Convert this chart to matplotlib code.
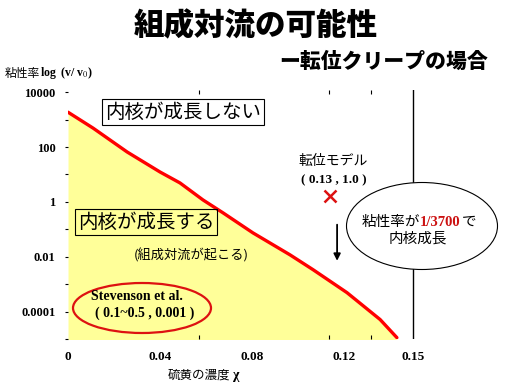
import numpy as np
import matplotlib
matplotlib.use('Agg')
import matplotlib.pyplot as plt
from matplotlib.patches import Ellipse

plt.rcParams['font.family'] = ['Noto Sans CJK JP', 'DejaVu Sans']
plt.rcParams['mathtext.fontset'] = 'stix'

# curve (sulfur concentration, log10 viscosity)
conc = [0.0, 0.0109, 0.0257, 0.040, 0.0487, 0.0587, 0.0674, 0.0804,
        0.0965, 0.1065, 0.1213, 0.1357, 0.143]
log_visc = [3.27, 2.69, 1.82, 1.09, 0.69, 0.07, -0.40, -1.13,
            -1.93, -2.47, -3.31, -4.29, -4.95]
visc = [10 ** v for v in log_visc]

# dislocation model point
model_x = [0.114]
model_y = [1.66]

x_ticks = [0, 0.04, 0.08, 0.12, 0.15]
x_tick_labels = ['0', '0.04', '0.08', '0.12', '0.15']
x_minor = [0.0, 0.057, 0.1135, 0.1317]
y_decades = [1e4, 1e3, 1e2, 1e1, 1, 1e-1, 1e-2, 1e-3, 1e-4, 1e-5]
y_tick_labels = {1e4: '10000', 1e2: '100', 1: '1', 1e-2: '0.01', 1e-4: '0.0001'}
line_x = 0.15

W, H = 512, 384
fig = plt.figure(figsize=(W / 100, H / 100), dpi=100)
ax = fig.add_axes([68 / W, 45 / H, 368 / W, 249 / H])

ax.fill_between(conc, visc, 1e-6, color='#ffff99', lw=0)
ax.plot(conc, visc, color='#ff0000', lw=2.4, solid_capstyle='round')
ax.set_yscale('log')
ax.set_xlim(0, 0.16)
ax.set_ylim(1.05e-5, 1.2e4)

for s in ax.spines.values():
    s.set_visible(False)

serif_bold = dict(family='Liberation Serif', weight='bold')

ax.set_yticks(y_decades)
ax.set_yticklabels([y_tick_labels.get(v, '') for v in y_decades], fontdict=serif_bold, fontsize=9)
ax.yaxis.set_minor_locator(matplotlib.ticker.NullLocator())
ax.tick_params(axis='y', length=2, width=0.8, pad=7)

ax.set_xticks(x_ticks)
ax.set_xticklabels(x_tick_labels, fontdict=serif_bold, fontsize=9.5)
ax.set_xticks(x_minor, minor=True)
ax.tick_params(axis='x', which='major', length=0, pad=9)
ax.tick_params(axis='x', which='minor', length=3, width=0.8, direction='in', top=True)

# vertical line at 0.15
ax.axvline(line_x, color='black', lw=1, zorder=1)

# model point and arrow
ax.plot(model_x, model_y, marker='x', color='#dd1111', ms=8, mew=1.8, ls='none')
ax.annotate('', xy=(0.117, 10 ** -2.25), xytext=(0.117, 10 ** -0.73),
            arrowprops=dict(arrowstyle='-|>', color='black', lw=1.3, mutation_scale=10))

# ellipses in pixel space
def px(x, y):
    return x / 100, (H - y) / 100

e1 = Ellipse(px(422, 226), 1.51, 0.87, transform=fig.dpi_scale_trans,
             facecolor='white', edgecolor='black', lw=0.8, zorder=5)
fig.patches.append(e1)
e2 = Ellipse(px(142, 308), 1.38, 0.50, transform=fig.dpi_scale_trans,
             facecolor='none', edgecolor='#dd1111', lw=1.6, zorder=5)
fig.patches.append(e2)

def ft(x, y, s, **kw):
    fig.text(x / W, 1 - y / H, s, **kw)

# titles
ft(256, 26, '組成対流の可能性', fontsize=22, weight='heavy', ha='center', va='center')
ft(488, 62, 'ー転位クリープの場合', fontsize=15, weight='heavy', ha='right', va='center')

# axis labels
ft(5, 73, '粘性率', fontsize=8.5, ha='left', va='center')
ft(40, 73, r'log  (v/ v$_0$)', fontsize=8.5, ha='left', va='center', **serif_bold)
ft(230, 375, '硫黄の濃度', fontsize=9, ha='right', va='center')
ft(233, 376, 'χ', fontsize=10, ha='left', va='center', **serif_bold)

# region boxes
ft(183, 112, '内核が成長しない', fontsize=14, ha='center', va='center',
   bbox=dict(boxstyle='square,pad=0.15', facecolor='white', edgecolor='black', lw=0.8))
ft(146, 222, '内核が成長する', fontsize=14, ha='center', va='center',
   bbox=dict(boxstyle='square,pad=0.15', facecolor='none', edgecolor='black', lw=0.8))
ft(191, 255, '(組成対流が起こる)', fontsize=9.5, ha='center', va='center')

# model label
ft(333, 161, '転位モデル', fontsize=10, ha='center', va='center')
ft(334, 180, '( 0.13 , 1.0 )', fontsize=9.5, ha='center', va='center', **serif_bold)

# ellipse text
ft(362, 222, '粘性率が', fontsize=10.5, ha='left', va='center', zorder=6)
ft(420, 222, '1/3700', fontsize=10.5, ha='left', va='center', color='#cc1111', zorder=6, **serif_bold)
ft(462, 222, 'で', fontsize=10.5, ha='left', va='center', zorder=6)
ft(418, 239, '内核成長', fontsize=10.5, ha='center', va='center', zorder=6)

# Stevenson
ft(137, 297, 'Stevenson et al.', fontsize=10, ha='center', va='center', zorder=6, **serif_bold)
ft(145, 313, '( 0.1~0.5 , 0.001 )', fontsize=10, ha='center', va='center', zorder=6, **serif_bold)

fig.savefig('out.png', dpi=100)
